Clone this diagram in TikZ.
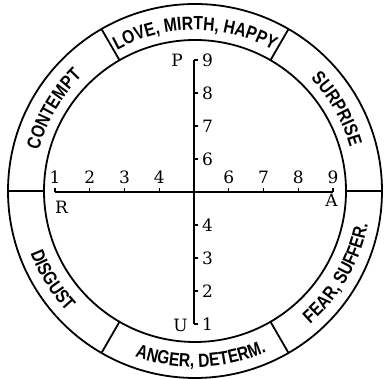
\documentclass[tikz,border=0pt]{standalone}
\usepackage{fontspec}
\usetikzlibrary{decorations.text}
\newfontfamily\ringfam[FakeStretch=0.82]{Liberation Sans}
\newfontfamily\scalefam{DejaVu Serif}
\newcommand\ringfont{\ringfam\bfseries\fontsize{19}{21}\selectfont}
\newcommand\scalefont{\scalefam\fontsize{17}{19}\selectfont}

\begin{document}
\begin{tikzpicture}[x=1pt,y=1pt,
  ring/.style={line width=1.8pt},
  axis/.style={line width=2.2pt},
  tick/.style={line width=1.3pt},
  num/.style={font=\scalefont,inner sep=1pt},
  ringtext/.style={decorate,
    decoration={text along path,text align=center,text={|\ringfont|#1}}}]

\useasboundingbox (0,0) rectangle (384,379);

% the dial
\coordinate (O) at (195,188);
\draw[ring] (O) circle[radius=187];
\draw[ring] (O) circle[radius=151];

\draw[ring] (O) ++(0:151) -- ++(0:36);
\draw[ring] (O) ++(60:151) -- ++(60:36);
\draw[ring] (O) ++(120:151) -- ++(120:36);
\draw[ring] (O) ++(180:151) -- ++(180:36);
\draw[ring] (O) ++(240:151) -- ++(240:36);
\draw[ring] (O) ++(300:151) -- ++(300:36);

% names of the sectors
\path[ringtext={LOVE, MIRTH, HAPPY}]
([shift={(135:161)}]O) arc[start angle=135,end angle=45,radius=161];
\path[ringtext={SURPRISE}]
([shift={(70:161)}]O) arc[start angle=70,end angle=-10,radius=161];
\path[ringtext={CONTEMPT}]
([shift={(190:161)}]O) arc[start angle=190,end angle=110,radius=161];
\path[ringtext={DISGUST}]
([shift={(-190:176)}]O) arc[start angle=-190,end angle=-106,radius=176];
\path[ringtext={ANGER, DETERM.}]
([shift={(-130:176)}]O) arc[start angle=-130,end angle=-46,radius=176];
\path[ringtext={FEAR, SUFFER.}]
([shift={(-70:176)}]O) arc[start angle=-70,end angle=10,radius=176];

% the two scales
\coordinate (R) at (55,187);
\coordinate (A) at (333,187);
\coordinate (P) at (194,319);
\coordinate (U) at (194,55);

\draw[axis] (R) -- (A);
\draw[axis] (U) -- (P);

\node[num,anchor=east] (lP) at (184,319) {P};
\node[num,anchor=east] (lU) at (189,54) {U};
\node[num,anchor=north west,inner sep=0pt] (lR) at (55,178) {R};
\node[num,anchor=north,inner sep=0pt] (lA) at (331.5,185) {A};

\draw[tick] (55,187) -- (55,191);
\node[num,anchor=south] (h1) at (55,194)
{1};

\draw[tick] (89.75,187) -- (89.75,191);
\node[num,anchor=south] (h2) at (89.75,194)
{2};

\draw[tick] (124.5,187) -- (124.5,191);
\node[num,anchor=south] (h3) at (124.5,194)
{3};

\draw[tick] (159.25,187) -- (159.25,191);
\node[num,anchor=south] (h4) at (159.25,194)
{4};

\draw[tick] (228.75,187) -- (228.75,191);
\node[num,anchor=south] (h6) at (228.75,194)
{6};

\draw[tick] (263.5,187) -- (263.5,191);
\node[num,anchor=south] (h7) at (263.5,194)
{7};

\draw[tick] (298.25,187) -- (298.25,191);
\node[num,anchor=south] (h8) at (298.25,194)
{8};

\draw[tick] (333,187) -- (333,191);
\node[num,anchor=south] (h9) at (333,194)
{9};

\draw[tick] (194,319) -- (198,319);
\node[num,anchor=west] (v9) at (201,319)
{9};

\draw[tick] (194,286) -- (198,286);
\node[num,anchor=west] (v8) at (201,286)
{8};

\draw[tick] (194,253) -- (198,253);
\node[num,anchor=west] (v7) at (201,253)
{7};

\draw[tick] (194,220) -- (198,220);
\node[num,anchor=west] (v6) at (201,220)
{6};

\draw[tick] (194,154) -- (198,154);
\node[num,anchor=west] (v4) at (201,154)
{4};

\draw[tick] (194,121) -- (198,121);
\node[num,anchor=west] (v3) at (201,121)
{3};

\draw[tick] (194,88) -- (198,88);
\node[num,anchor=west] (v2) at (201,88)
{2};

\draw[tick] (194,55) -- (198,55);
\node[num,anchor=west] (v1) at (201,55)
{1};

\end{tikzpicture}
\end{document}
